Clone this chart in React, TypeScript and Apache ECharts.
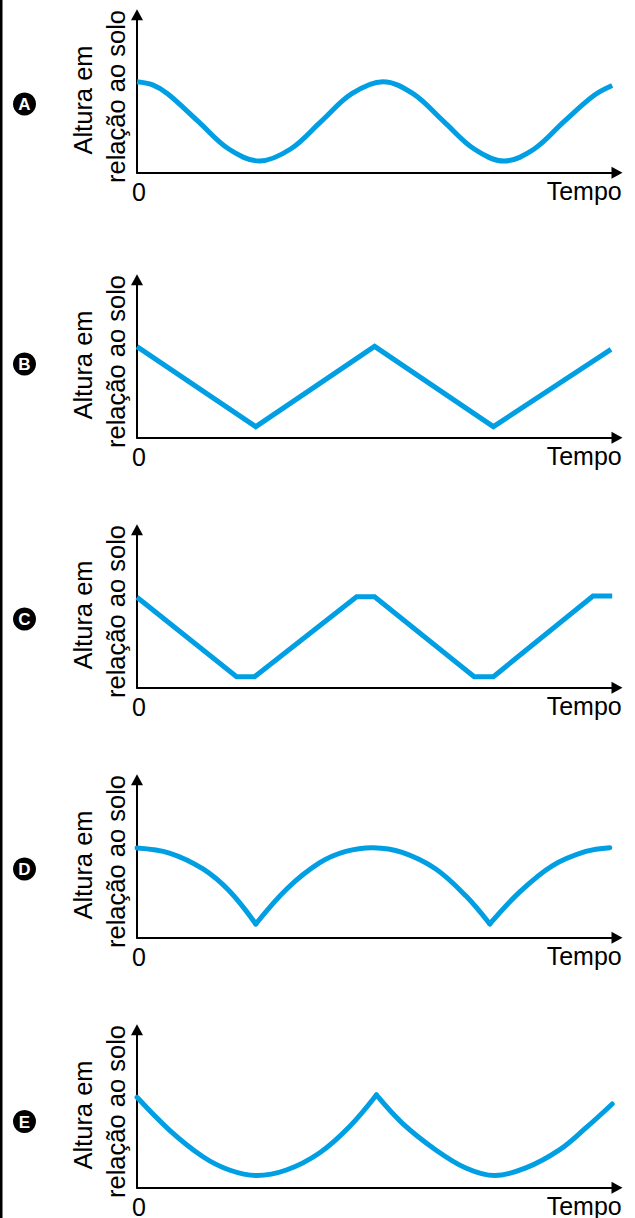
import React, { useEffect, useRef } from 'react';
import * as echarts from 'echarts';

// ---- Data ----
const panelLetters = ['A', 'B', 'C', 'D', 'E'];
const yTitleLine1 = 'Altura em';
const yTitleLine2 = 'relação ao solo';
const xTitle = 'Tempo';
const originLabel = '0';

const xMax = 40;
const yMax = 100;

// Panel A: smooth wave
const curveA = [[0, 57.6], [1.3, 55.6], [2.55, 50.0], [5.1, 32.5], [7.65, 15.0], [10.2, 7.4], [12.8, 15.0], [15.35, 32.5], [17.9, 50.0], [20.5, 57.6], [23.0, 50.0], [25.55, 32.5], [28.1, 15.0], [30.6, 7.4], [33.1, 15.0], [35.6, 32.5], [38.1, 49.0], [39.6, 55.2]];
// Panel B: triangle wave
const curveB = [[0, 57.6], [9.9, 7.0], [19.8, 57.8], [29.7, 7.0], [39.5, 55.9]];
// Panel C: trapezoid wave
const curveC = [[0, 57.2], [8.3, 7.0], [9.8, 7.0], [18.3, 57.6], [19.8, 57.6], [28.1, 7.0], [29.7, 7.0], [38.0, 58.0], [39.6, 58.0]];
// Panel D: arches with cusps at the bottom
const curveD1 = [[0, 56.8], [2.7, 53.6], [5.5, 43.5], [7.7, 29.5], [9.9, 8.7]];
const curveD2 = [[9.9, 8.7], [12.5, 31.0], [15.2, 47.3], [17.4, 54.6], [19.7, 57.0], [22.1, 54.0], [24.9, 43.5], [27.4, 26.5], [29.4, 8.7]];
const curveD3 = [[29.4, 8.7], [31.9, 29.0], [34.6, 45.5], [37.4, 54.6], [39.4, 57.0]];
// Panel E: bowls with cusps at the top
const curveE1 = [[0, 57.2], [2.7, 36.5], [5.5, 19.6], [7.7, 11.2], [9.95, 7.7], [12.45, 11.2], [15.2, 22.0], [17.7, 38.6], [19.95, 58.7]];
const curveE2 = [[19.95, 58.7], [22.1, 40.9], [24.9, 23.9], [27.4, 12.5], [29.8, 7.7], [32.4, 12.5], [35.2, 23.9], [37.4, 37.8], [39.6, 53.0]];

const panelCurves: { data: number[][]; smooth: boolean }[][] = [
  [{ data: curveA, smooth: true }],
  [{ data: curveB, smooth: false }],
  [{ data: curveC, smooth: false }],
  [{ data: curveD1, smooth: true }, { data: curveD2, smooth: true }, { data: curveD3, smooth: true }],
  [{ data: curveE1, smooth: true }, { data: curveE2, smooth: true }],
];

// ---- Layout ----
const W = 635;
const H = 1218;
const axisYs = [172.7, 437.7, 687.7, 937.7, 1187.7];
const letterYs = [104, 364, 619, 869, 1121.5];
const gridLeft = 137;
const gridWidth = 480;
const gridHeight = 158;
const BLUE = '#009fe3';
const FONT = '"Liberation Sans", Arial, Helvetica, sans-serif';

export default function App() {
  const ref = useRef<HTMLDivElement>(null);

  useEffect(() => {
    if (!ref.current) return;
    const chart = echarts.init(ref.current, undefined, { renderer: 'svg', width: W, height: H });

    const grid: any[] = [];
    const xAxis: any[] = [];
    const yAxis: any[] = [];
    const series: any[] = [];
    const graphic: any[] = [
      { type: 'rect', shape: { x: 0, y: 0, width: 2.5, height: H }, style: { fill: '#000' } },
    ];

    const axisLine = {
      show: true,
      onZero: false,
      symbol: ['none', 'triangle'],
      symbolSize: [12, 11],
      lineStyle: { color: '#000', width: 2 },
    };

    axisYs.forEach((ay, i) => {
      grid.push({ left: gridLeft, width: gridWidth, top: ay - gridHeight, height: gridHeight, containLabel: false });
      xAxis.push({
        type: 'value', gridIndex: i, min: 0, max: xMax,
        axisLine, axisTick: { show: false }, axisLabel: { show: false }, splitLine: { show: false },
      });
      yAxis.push({
        type: 'value', gridIndex: i, min: 0, max: yMax,
        axisLine, axisTick: { show: false }, axisLabel: { show: false }, splitLine: { show: false },
      });
      panelCurves[i].forEach((c) => {
        const pts = c.data;
        const isCusp = i >= 3;
        series.push({
          type: 'custom',
          xAxisIndex: i,
          yAxisIndex: i,
          data: pts,
          encode: { x: 0, y: 1 },
          silent: true,
          z: 1,
          renderItem: (params: any, api: any) => {
            if (params.dataIndex !== 0) return null;
            const points = pts.map((p) => api.coord(p));
            return {
              type: 'polyline',
              shape: { points, smooth: c.smooth ? 0.36 : 0 },
              style: {
                stroke: BLUE,
                fill: 'none',
                lineWidth: 5,
                lineJoin: 'miter',
                lineCap: isCusp ? 'round' : 'butt',
              },
            };
          },
        });
      });

      // circled letter
      graphic.push({ type: 'circle', shape: { cx: 24.5, cy: letterYs[i], r: 11.5 }, style: { fill: '#000' } });
      graphic.push({
        type: 'text', x: 24.5, y: letterYs[i] + 0.5,
        style: { text: panelLetters[i], fill: '#fff', fontSize: 17, fontWeight: 'bold', fontFamily: FONT, align: 'center', verticalAlign: 'middle' },
      });
      // rotated y title
      graphic.push({
        type: 'text', x: 82.5, y: ay - 72.7, rotation: Math.PI / 2,
        style: { text: yTitleLine1, fill: '#000', fontSize: 25.5, fontFamily: FONT, align: 'center', verticalAlign: 'middle' },
      });
      graphic.push({
        type: 'text', x: 116, y: ay - 76.2, rotation: Math.PI / 2,
        style: { text: yTitleLine2, fill: '#000', fontSize: 25.5, fontFamily: FONT, align: 'center', verticalAlign: 'middle' },
      });
      // origin and x title
      graphic.push({
        type: 'text', x: 139, y: ay + 19,
        style: { text: originLabel, fill: '#000', fontSize: 25, fontFamily: FONT, align: 'center', verticalAlign: 'middle' },
      });
      graphic.push({
        type: 'text', x: 621.7, y: ay + 18.3,
        style: { text: xTitle, fill: '#000', fontSize: 25, fontFamily: FONT, align: 'right', verticalAlign: 'middle' },
      });
    });

    chart.setOption({
      animation: false,
      backgroundColor: '#fff',
      grid,
      xAxis,
      yAxis,
      series,
      graphic,
    });

    return () => chart.dispose();
  }, []);

  return <div ref={ref} style={{ position: 'absolute', left: 0, top: 0, width: W, height: H }} />;
}
